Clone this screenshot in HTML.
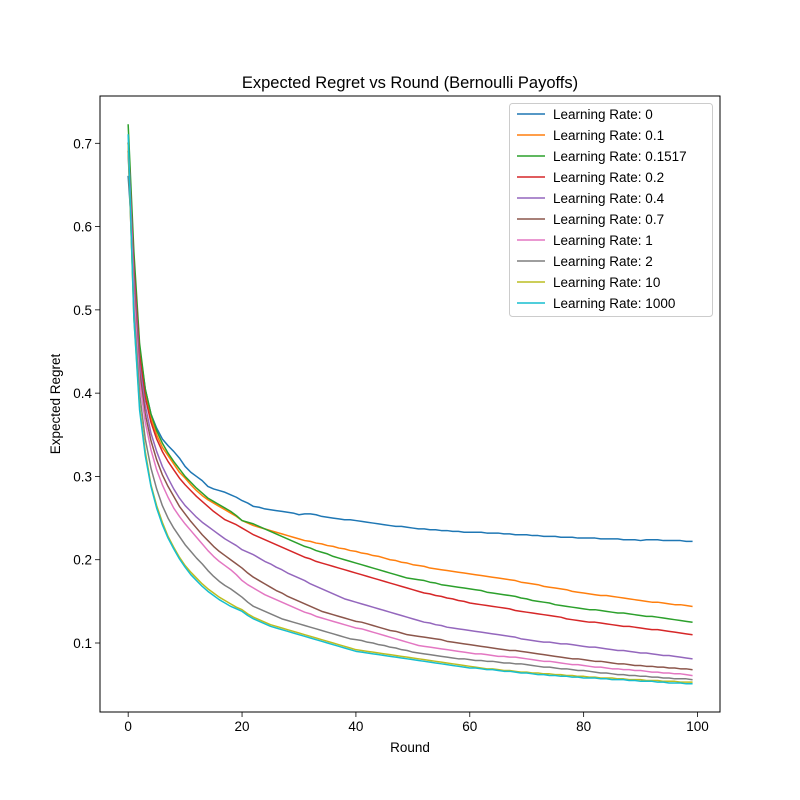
<!DOCTYPE html>
<html><head><meta charset="utf-8"><style>
body{margin:0;background:#fff}
svg{display:block;font-family:"Liberation Sans","DejaVu Sans",sans-serif}
</style></head><body>
<svg id="chart" width="800" height="800" viewBox="0 0 800 800">
<rect width="800" height="800" fill="#fff"/>
</svg>
<script>
const rounds = Array.from({length:100},(_,i)=>i);
const seriesNames = ["Learning Rate: 0","Learning Rate: 0.1","Learning Rate: 0.1517","Learning Rate: 0.2","Learning Rate: 0.4","Learning Rate: 0.7","Learning Rate: 1","Learning Rate: 2","Learning Rate: 10","Learning Rate: 1000"];
const colors = ["#1f77b4","#ff7f0e","#2ca02c","#d62728","#9467bd","#8c564b","#e377c2","#7f7f7f","#bcbd22","#17becf"];
const xTicks = [0,20,40,60,80,100];
const yTicks = [0.1,0.2,0.3,0.4,0.5,0.6,0.7];
const lr0 = [0.660,0.560,0.455,0.405,0.375,0.358,0.345,0.337,0.330,0.322,0.312,0.305,0.300,0.295,0.288,0.285,0.283,0.281,0.278,0.275,0.271,0.268,0.264,0.263,0.261,0.260,0.259,0.258,0.257,0.256,0.254,0.255,0.255,0.254,0.252,0.251,0.250,0.249,0.248,0.248,0.247,0.246,0.245,0.244,0.243,0.242,0.241,0.240,0.240,0.239,0.238,0.237,0.237,0.236,0.236,0.235,0.235,0.234,0.234,0.233,0.233,0.233,0.233,0.232,0.232,0.232,0.231,0.231,0.230,0.230,0.230,0.229,0.229,0.228,0.228,0.228,0.227,0.227,0.227,0.226,0.226,0.226,0.226,0.225,0.225,0.225,0.225,0.224,0.224,0.224,0.223,0.224,0.224,0.224,0.223,0.223,0.223,0.223,0.222,0.222];
const lr01 = [0.700,0.560,0.450,0.400,0.370,0.350,0.335,0.325,0.315,0.305,0.298,0.290,0.283,0.277,0.272,0.268,0.264,0.260,0.256,0.252,0.247,
0.244,0.241,0.239,0.237,0.235,0.233,0.231,0.229,0.227,0.225,
0.223,0.222,0.220,0.219,0.217,0.216,0.214,0.213,0.211,0.210,
0.208,0.207,0.205,0.204,0.202,0.200,0.199,0.197,0.196,0.194,
0.193,0.192,0.190,0.189,0.188,0.187,0.186,0.185,0.184,0.183,
0.182,0.181,0.180,0.179,0.178,0.177,0.176,0.175,0.173,0.172,
0.171,0.170,0.168,0.167,0.166,0.165,0.164,0.162,0.161,0.160,
0.159,0.158,0.157,0.157,0.156,0.155,0.154,0.153,0.152,0.151,
0.150,0.149,0.149,0.148,0.147,0.146,0.146,0.145,0.144];
const lr01517 = [0.722,0.570,0.460,0.405,0.375,0.355,0.340,0.328,0.318,0.309,0.300,0.293,0.286,0.280,0.274,0.270,0.266,0.262,0.258,0.253,0.247,
0.245,0.243,0.240,0.237,0.234,0.231,0.228,0.225,0.222,0.219,
0.216,0.214,0.211,0.209,0.207,0.204,0.202,0.200,0.198,0.196,
0.194,0.192,0.190,0.188,0.186,0.184,0.182,0.180,0.178,0.177,
0.176,0.175,0.173,0.172,0.170,0.169,0.168,0.167,0.166,0.165,
0.164,0.163,0.161,0.160,0.159,0.158,0.157,0.156,0.154,0.153,
0.151,0.150,0.149,0.148,0.146,0.145,0.144,0.143,0.142,0.141,
0.140,0.140,0.139,0.138,0.137,0.136,0.136,0.135,0.134,0.133,
0.132,0.132,0.131,0.130,0.129,0.128,0.127,0.126,0.125];
const lr02 = [0.700,0.550,0.445,0.395,0.365,0.345,0.330,0.318,0.308,0.298,0.290,0.283,0.276,0.270,0.264,0.258,0.253,0.248,0.245,0.242,0.238,
0.234,0.230,0.227,0.224,0.221,0.218,0.215,0.212,0.209,0.206,
0.203,0.201,0.198,0.196,0.194,0.192,0.190,0.188,0.186,0.184,
0.182,0.180,0.178,0.176,0.174,0.172,0.170,0.168,0.166,0.164,
0.162,0.160,0.159,0.157,0.156,0.154,0.153,0.151,0.150,0.148,
0.147,0.146,0.145,0.144,0.143,0.142,0.141,0.139,0.138,0.137,
0.136,0.135,0.134,0.133,0.132,0.131,0.129,0.128,0.127,0.126,
0.125,0.125,0.124,0.123,0.122,0.121,0.120,0.120,0.119,0.118,
0.117,0.116,0.116,0.115,0.114,0.113,0.112,0.111,0.110];
const lr04 = [0.700,0.540,0.435,0.385,0.352,0.330,0.312,0.298,0.285,0.274,0.265,0.258,0.251,0.245,0.240,0.235,0.230,0.225,0.221,0.217,0.212,
0.209,0.206,0.202,0.198,0.195,0.191,0.188,0.184,0.181,0.178,
0.175,0.171,0.168,0.165,0.162,0.159,0.156,0.153,0.151,0.149,
0.147,0.145,0.143,0.141,0.139,0.137,0.135,0.133,0.131,0.129,
0.127,0.125,0.124,0.122,0.121,0.119,0.118,0.117,0.116,0.115,
0.114,0.113,0.112,0.111,0.110,0.109,0.108,0.107,0.105,0.104,
0.103,0.102,0.101,0.101,0.100,0.099,0.099,0.098,0.097,0.096,
0.095,0.095,0.094,0.093,0.092,0.091,0.091,0.090,0.089,0.088,
0.088,0.087,0.086,0.085,0.085,0.084,0.083,0.082,0.081];
const lr07 = [0.690,0.530,0.425,0.375,0.343,0.320,0.302,0.288,0.276,0.264,0.255,0.246,0.238,0.230,0.223,0.216,0.210,0.205,0.200,0.195,0.190,
0.184,0.179,0.175,0.171,0.167,0.163,0.160,0.156,0.153,0.150,
0.147,0.144,0.141,0.138,0.136,0.134,0.132,0.130,0.128,0.126,
0.125,0.123,0.121,0.119,0.117,0.115,0.114,0.112,0.110,0.109,
0.108,0.107,0.106,0.105,0.104,0.102,0.101,0.100,0.099,0.098,
0.097,0.096,0.095,0.094,0.093,0.092,0.091,0.091,0.090,0.089,
0.088,0.087,0.086,0.085,0.084,0.083,0.082,0.081,0.081,0.080,
0.079,0.078,0.078,0.077,0.076,0.075,0.075,0.074,0.073,0.073,
0.072,0.072,0.071,0.071,0.070,0.070,0.069,0.069,0.068];
const lr1 = [0.700,0.520,0.415,0.365,0.332,0.308,0.290,0.275,0.262,0.252,0.243,0.235,0.227,0.219,0.211,0.204,0.198,0.193,0.188,0.182,0.175,
0.170,0.166,0.162,0.158,0.155,0.152,0.149,0.146,0.143,0.140,
0.137,0.135,0.132,0.130,0.128,0.126,0.124,0.122,0.120,0.118,
0.117,0.115,0.113,0.111,0.109,0.107,0.105,0.103,0.101,0.099,
0.097,0.096,0.095,0.094,0.093,0.092,0.091,0.090,0.089,0.088,
0.087,0.087,0.086,0.085,0.084,0.084,0.083,0.083,0.082,0.081,
0.080,0.079,0.078,0.078,0.077,0.076,0.075,0.074,0.074,0.073,
0.072,0.071,0.071,0.070,0.069,0.069,0.068,0.068,0.067,0.067,
0.066,0.065,0.065,0.064,0.064,0.063,0.063,0.062,0.061];
const lr2 = [0.690,0.500,0.400,0.345,0.310,0.285,0.265,0.250,0.238,0.228,0.218,0.210,0.202,0.195,0.187,0.180,0.174,0.169,0.165,0.160,0.155,
0.149,0.144,0.141,0.138,0.135,0.132,0.129,0.127,0.125,0.123,
0.121,0.119,0.117,0.115,0.113,0.111,0.109,0.107,0.105,0.104,
0.103,0.101,0.100,0.098,0.097,0.095,0.094,0.092,0.091,0.089,
0.088,0.087,0.086,0.085,0.084,0.083,0.082,0.081,0.081,0.080,
0.079,0.079,0.078,0.078,0.077,0.076,0.076,0.075,0.075,0.074,
0.073,0.072,0.071,0.071,0.070,0.069,0.069,0.068,0.067,0.067,
0.066,0.065,0.064,0.064,0.063,0.062,0.062,0.061,0.061,0.060,
0.060,0.059,0.059,0.058,0.058,0.057,0.057,0.057,0.056];
const lr10 = [0.700,0.490,0.385,0.330,0.290,0.265,0.245,0.228,0.215,0.203,0.193,0.185,0.178,0.171,0.165,0.160,0.155,0.151,0.147,0.143,0.140,
0.135,0.131,0.128,0.125,0.122,0.120,0.118,0.116,0.114,0.112,
0.110,0.108,0.106,0.104,0.102,0.100,0.098,0.096,0.094,0.092,
0.091,0.090,0.089,0.088,0.087,0.086,0.085,0.084,0.083,0.082,
0.081,0.080,0.079,0.078,0.077,0.076,0.075,0.074,0.073,0.072,
0.071,0.070,0.069,0.069,0.068,0.067,0.067,0.066,0.065,0.065,
0.064,0.064,0.063,0.063,0.062,0.062,0.061,0.061,0.060,0.060,
0.059,0.059,0.058,0.058,0.058,0.057,0.057,0.056,0.056,0.056,
0.055,0.055,0.055,0.054,0.054,0.054,0.053,0.053,0.053];
const lr1000 = [0.710,0.490,0.380,0.325,0.288,0.262,0.242,0.226,0.213,0.201,0.191,0.182,0.175,0.168,0.162,0.157,0.152,0.148,0.144,0.141,0.138,
0.133,0.129,0.126,0.123,0.120,0.118,0.116,0.114,0.112,0.110,
0.108,0.106,0.104,0.102,0.100,0.098,0.096,0.094,0.092,0.090,
0.089,0.088,0.087,0.086,0.085,0.084,0.083,0.082,0.081,0.080,
0.079,0.078,0.077,0.076,0.075,0.074,0.073,0.072,0.071,0.070,
0.070,0.069,0.068,0.068,0.067,0.066,0.066,0.065,0.064,0.064,
0.063,0.062,0.062,0.061,0.061,0.060,0.060,0.059,0.059,0.058,
0.058,0.058,0.057,0.057,0.056,0.056,0.056,0.055,0.055,0.054,
0.054,0.054,0.053,0.053,0.052,0.052,0.052,0.051,0.051];
const seriesValues = [lr0,lr01,lr01517,lr02,lr04,lr07,lr1,lr2,lr10,lr1000];

const NS="http://www.w3.org/2000/svg";
const svg=document.getElementById('chart');
const L=100,R=720,T=96,B=712;
const xMin=-4.95,xMax=103.95;
const xS=v=>L+(v-xMin)/(xMax-xMin)*(R-L);
const yS=v=>143.3+(0.7-v)*(643-143.3)/0.6;
function mk(tag,attrs,parent){const e=document.createElementNS(NS,tag);for(const k in attrs)e.setAttribute(k,attrs[k]);(parent||svg).appendChild(e);return e;}

const plot=mk('g',{});


const clip=mk('clipPath',{id:'cp'});mk('rect',{x:L,y:T,width:R-L,height:B-T},clip);
seriesValues.forEach((vals,si)=>{
  const d=vals.map((v,i)=>(i?'L':'M')+xS(rounds[i]).toFixed(2)+','+yS(v).toFixed(2)).join('');
  const p=mk('path',{d:d,fill:'none',stroke:colors[si],'stroke-width':1.5,'stroke-linejoin':'round','stroke-linecap':'square','clip-path':'url(#cp)'},plot);
  
  
});
const frame=mk('rect',{x:L,y:T,width:R-L,height:B-T,fill:'none',stroke:'#000','stroke-width':1});



xTicks.forEach(t=>{
  const x=xS(t);
  const tk=mk('line',{x1:x,x2:x,y1:B,y2:B+5,stroke:'#000','stroke-width':0.8});
  
  
  const tx=mk('text',{x:x,y:B+19,'font-size':13.5,'text-anchor':'middle',fill:'#000'});
  tx.textContent=t;
  
  
});
yTicks.forEach(t=>{
  const y=yS(t);
  const tk=mk('line',{x1:L-5,x2:L,y1:y,y2:y,stroke:'#000','stroke-width':0.8});
  
  
  const tx=mk('text',{x:L-8,y:y+5,'font-size':13.5,'text-anchor':'end',fill:'#000'});
  tx.textContent=t.toFixed(1);
  
  
});
const title=mk('text',{x:410,y:88,'font-size':16.5,'text-anchor':'middle',fill:'#000'});
title.textContent='Expected Regret vs Round (Bernoulli Payoffs)';


const xl=mk('text',{x:410,y:752,'font-size':13.5,'text-anchor':'middle',fill:'#000'});
xl.textContent='Round';


const yl=mk('text',{x:0,y:0,'font-size':13.5,'text-anchor':'middle',fill:'#000',transform:'translate(60,404) rotate(-90)'});
yl.textContent='Expected Regret';



const lg=mk('g',{});


mk('rect',{x:509.5,y:103.5,width:203,height:213,rx:3,fill:'#fff','fill-opacity':0.8,stroke:'#ccc','stroke-width':1},lg);
seriesNames.forEach((n,i)=>{
  const y=114+i*21;
  const g=mk('g',{},lg);
  
  
  mk('line',{x1:517,x2:545,y1:y,y2:y,stroke:colors[i],'stroke-width':1.5},g);
  const t=mk('text',{x:553,y:y+5,'font-size':13.5,fill:'#000'},g);
  t.textContent=n;
});
</script>
</body></html>
